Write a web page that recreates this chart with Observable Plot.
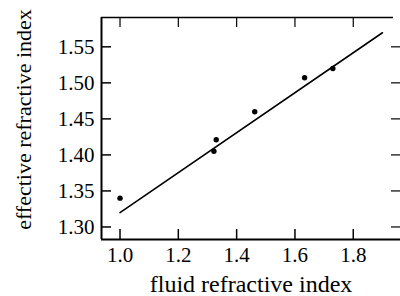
<!DOCTYPE html>
<html><head><meta charset="utf-8">
<script src="https://cdn.jsdelivr.net/npm/d3@7"></script>
<script src="https://cdn.jsdelivr.net/npm/@observablehq/plot@0.6"></script>
<style>
html,body{margin:0;padding:0;background:#fff;}
svg{display:block;}
</style>
</head><body>
<div id="chart"></div>
<script>
const fluidIndex = [1.0, 1.322, 1.33, 1.462, 1.633, 1.730];
const effectiveIndex = [1.34, 1.405, 1.421, 1.46, 1.507, 1.520];
const fitX = [1.0, 1.90];
const fitY = [1.32, 1.5695];
const xTicks = [1.0, 1.2, 1.4, 1.6, 1.8];
const yTicks = [1.30, 1.35, 1.40, 1.45, 1.50, 1.55];
const xDomain = [0.9365, 1.962];
const yDomain = [1.2826, 1.5907];
const xLabel = "fluid refractive index";
const yLabel = "effective refractive index";

const points = fluidIndex.map((x, i) => ({x, y: effectiveIndex[i]}));
const fit = fitX.map((x, i) => ({x, y: fitY[i]}));
const font = "Liberation Serif";

const chart = Plot.plot({
  width: 400,
  height: 296,
  marginLeft: 101,
  marginRight: 0,
  marginTop: 17,
  marginBottom: 57,
  style: {fontFamily: font, fontSize: "21px", color: "#000", background: "#fff"},
  x: {domain: xDomain},
  y: {domain: yDomain},
  marks: [
    Plot.axisX(xTicks, {anchor: "bottom", tickSize: 0, tickPadding: 8, tickFormat: d3.format(".1f"), fontSize: 21, label: null}),
    Plot.axisY(yTicks, {anchor: "left", tickSize: 0, tickPadding: 7, tickFormat: d3.format(".2f"), fontSize: 21, label: null}),
    Plot.tickX(xTicks, {x: d => d, insetTop: 212, stroke: "#000", strokeWidth: 1.5}),
    Plot.tickX(xTicks, {x: d => d, insetBottom: 212, stroke: "#000", strokeWidth: 1.2}),
    Plot.tickY(yTicks, {y: d => d, insetRight: 289, stroke: "#000", strokeWidth: 1.5}),
    Plot.tickY(yTicks, {y: d => d, insetLeft: 290, stroke: "#000", strokeWidth: 1.2}),
    Plot.ruleX([xDomain[0]], {stroke: "#000", strokeWidth: 2}),
    Plot.ruleY([yDomain[0]], {stroke: "#000", strokeWidth: 2}),
    Plot.ruleY([yDomain[1]], {stroke: "#000", strokeWidth: 1.5, insetRight: 7}),
    Plot.line(fit, {x: "x", y: "y", stroke: "#000", strokeWidth: 1.6}),
    Plot.dot(points, {x: "x", y: "y", r: 2.7, fill: "#000", stroke: null}),
    Plot.text([xLabel], {text: d => d, frameAnchor: "bottom", textAnchor: "middle", dy: 52, fontSize: 24, lineAnchor: "bottom", fill: "#000"}),
    Plot.text([yLabel], {text: d => d, frameAnchor: "left", textAnchor: "middle", rotate: -90, dx: -71, dy: -9, fontSize: 22, lineAnchor: "bottom", fill: "#000"})
  ]
});
document.getElementById("chart").appendChild(chart);
</script>
</body></html>
